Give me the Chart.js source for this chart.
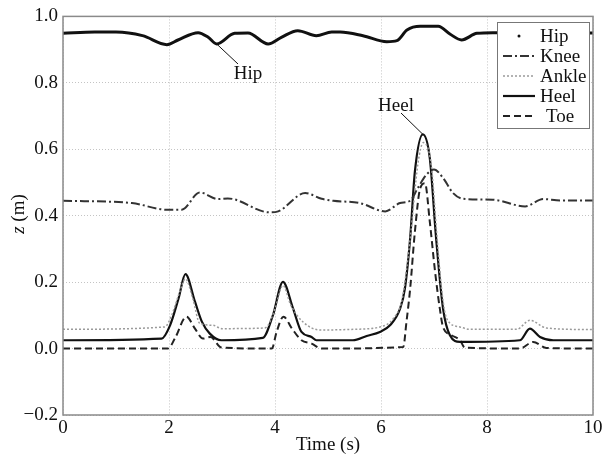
<!DOCTYPE html>
<html>
<head>
<meta charset="utf-8">
<script src="https://cdn.jsdelivr.net/npm/chart.js@4"></script>
<style>
  html, body { margin: 0; padding: 0; background: #fff; }
  #wrap { width: 605px; height: 455px; }
</style>
</head>
<body>
<div id="wrap"><canvas id="zChart" width="605" height="455"></canvas></div>
<script>
// marker heights z (m) vs time (s)
const hipT = [0, 0.6, 1.0, 1.5, 1.96, 2.17, 2.55, 2.74, 2.9, 3.24, 3.49, 3.87, 4.12, 4.43, 4.78, 5.07, 5.23, 5.66, 6.11, 6.3, 6.49, 6.74, 7.08, 7.3, 7.52, 7.81, 8.11, 9.0, 10];
const hipZ = [0.949, 0.953, 0.953, 0.942, 0.915, 0.929, 0.951, 0.937, 0.917, 0.949, 0.950, 0.917, 0.937, 0.957, 0.942, 0.953, 0.953, 0.942, 0.924, 0.927, 0.959, 0.970, 0.970, 0.947, 0.929, 0.949, 0.951, 0.950, 0.950];

const kneeT = [0, 1.3, 1.96, 2.24, 2.58, 2.93, 3.11, 3.9, 4.06, 4.57, 4.88, 5.1, 5.6, 6.08, 6.36, 6.55, 6.7, 6.86, 7.0, 7.17, 7.36, 7.55, 8.11, 8.72, 9.06, 9.38, 10];
const kneeZ = [0.445, 0.438, 0.418, 0.418, 0.470, 0.450, 0.452, 0.410, 0.413, 0.468, 0.451, 0.445, 0.438, 0.413, 0.438, 0.445, 0.485, 0.524, 0.539, 0.514, 0.468, 0.451, 0.448, 0.428, 0.450, 0.446, 0.446];

const ankleT = [0, 1.92, 2.05, 2.2, 2.31, 2.45, 2.58, 2.83, 3.0, 3.8, 3.87, 4.0, 4.15, 4.3, 4.53, 4.85, 5.5, 5.98, 6.23, 6.4, 6.55, 6.7, 6.8, 6.95, 7.05, 7.15, 7.24, 7.49, 7.68, 8.56, 8.81, 9.12, 10];
const ankleZ = [0.058, 0.065, 0.10, 0.17, 0.21, 0.15, 0.076, 0.07, 0.06, 0.062, 0.07, 0.12, 0.19, 0.13, 0.08, 0.056, 0.058, 0.065, 0.09, 0.15, 0.33, 0.56, 0.62, 0.55, 0.35, 0.17, 0.09, 0.065, 0.058, 0.058, 0.085, 0.062, 0.057];

const heelT = [0, 1.86, 2.02, 2.18, 2.31, 2.49, 2.62, 2.77, 2.99, 3.77, 3.96, 4.15, 4.34, 4.5, 4.69, 4.78, 5.47, 5.73, 5.98, 6.17, 6.36, 6.45, 6.55, 6.64, 6.79, 6.92, 7.04, 7.17, 7.3, 7.49, 8.62, 8.81, 9.0, 9.25, 10];
const heelZ = [0.025, 0.03, 0.07, 0.151, 0.224, 0.141, 0.081, 0.045, 0.025, 0.032, 0.10, 0.201, 0.121, 0.05, 0.035, 0.025, 0.025, 0.038, 0.05, 0.07, 0.12, 0.18, 0.332, 0.534, 0.645, 0.574, 0.332, 0.121, 0.04, 0.02, 0.025, 0.06, 0.035, 0.025, 0.025];

const toeT = [0, 1.98, 2.11, 2.33, 2.49, 2.64, 2.78, 2.99, 3.94, 4.03, 4.16, 4.32, 4.5, 4.69, 4.88, 6.42, 6.48, 6.55, 6.64, 6.74, 6.83, 6.92, 7.02, 7.11, 7.17, 7.33, 7.49, 7.58, 8.62, 8.87, 9.12, 10];
const toeZ = [0, 0, 0.03, 0.096, 0.06, 0.03, 0.035, 0.003, 0, 0.05, 0.096, 0.06, 0.025, 0.015, 0, 0.005, 0.08, 0.18, 0.353, 0.483, 0.498, 0.383, 0.232, 0.12, 0.065, 0.04, 0.025, 0.003, 0, 0.02, 0.002, 0];

const xTicks = [0, 2, 4, 6, 8, 10];
const yTicks = [-0.2, 0, 0.2, 0.4, 0.6, 0.8, 1.0];

const serif = "'Liberation Serif', 'Times New Roman', serif";

function pts(ts, zs) {
  return ts.map((t, i) => ({ x: t, y: zs[i] }));
}

// frame, axis titles, annotations and the boxed legend
const extras = {
  id: "extras",
  afterDatasetsDraw(chart) {
    const ctx = chart.ctx;
    const a = chart.chartArea;
    const xs = chart.scales.x, ys = chart.scales.y;
    ctx.save();

    ctx.strokeStyle = "#8a8a8a";
    ctx.lineWidth = 1.5;
    ctx.strokeRect(a.left, a.top, a.right - a.left, a.bottom - a.top);

    ctx.fillStyle = "#111";
    ctx.font = "19px " + serif;
    ctx.textAlign = "center";
    ctx.textBaseline = "middle";
    ctx.fillText("Time (s)", 328, 445);

    // y title with italic z
    ctx.save();
    ctx.translate(19, 214);
    ctx.rotate(-Math.PI / 2);
    ctx.textAlign = "left";
    ctx.font = "italic 19px " + serif;
    const zw = ctx.measureText("z").width;
    ctx.font = "19px " + serif;
    const rw = ctx.measureText(" (m)").width;
    const start = -(zw + rw) / 2;
    ctx.font = "italic 19px " + serif;
    ctx.fillText("z", start, 0);
    ctx.font = "19px " + serif;
    ctx.fillText(" (m)", start + zw, 0);
    ctx.restore();

    // annotations
    ctx.strokeStyle = "#111";
    ctx.lineWidth = 1;
    ctx.beginPath();
    ctx.moveTo(xs.getPixelForValue(2.9), ys.getPixelForValue(0.917));
    ctx.lineTo(238, 64);
    ctx.moveTo(401, 113);
    ctx.lineTo(xs.getPixelForValue(6.79), ys.getPixelForValue(0.645));
    ctx.stroke();
    ctx.font = "19px " + serif;
    ctx.fillText("Hip", 248, 74);
    ctx.fillText("Heel", 396, 106);

    // legend
    const lx = 497, ly = 22, lw = 92, lh = 106;
    ctx.fillStyle = "#fff";
    ctx.fillRect(lx, ly, lw, lh);
    ctx.strokeStyle = "#777";
    ctx.lineWidth = 1;
    ctx.strokeRect(lx + 0.5, ly + 0.5, lw, lh);
    chart.data.datasets.forEach((ds, i) => {
      const cy = 36 + i * 20;
      if (ds.label === "Hip") {
        ctx.fillStyle = "#111";
        ctx.beginPath();
        ctx.arc(519, cy, 1.5, 0, Math.PI * 2);
        ctx.fill();
      } else {
        ctx.strokeStyle = ds.borderColor;
        ctx.lineWidth = ds.borderWidth;
        ctx.setLineDash(ds.borderDash || []);
        ctx.beginPath();
        ctx.moveTo(503, cy);
        ctx.lineTo(535, cy);
        ctx.stroke();
        ctx.setLineDash([]);
      }
      ctx.fillStyle = "#111";
      ctx.textAlign = "left";
      ctx.fillText(ds.label, ds.label === "Toe" ? 546 : 540, cy + 1);
    });
    ctx.restore();
  }
};

const ctx = document.getElementById("zChart").getContext("2d");
new Chart(ctx, {
  type: "line",
  data: {
    datasets: [
      { label: "Hip", data: pts(hipT, hipZ), borderColor: "#111", borderWidth: 3 },
      { label: "Knee", data: pts(kneeT, kneeZ), borderColor: "#333", borderWidth: 2, borderDash: [9, 3, 2, 3] },
      { label: "Ankle", data: pts(ankleT, ankleZ), borderColor: "#9a9a9a", borderWidth: 1.5, borderDash: [2, 2] },
      { label: "Heel", data: pts(heelT, heelZ), borderColor: "#111", borderWidth: 2.2 },
      { label: "Toe", data: pts(toeT, toeZ), borderColor: "#222", borderWidth: 2, borderDash: [7, 4] },
    ],
  },
  options: {
    responsive: false,
    animation: false,
    layout: { padding: { top: 15, right: 12, left: 0, bottom: 0 } },
    elements: {
      point: { radius: 0 },
      line: { cubicInterpolationMode: "monotone", fill: false },
    },
    plugins: { legend: { display: false }, tooltip: { enabled: false } },
    scales: {
      x: {
        type: "linear",
        min: 0,
        max: 10,
        afterFit: (s) => { s.height = 40; },
        afterBuildTicks: (s) => { s.ticks = xTicks.map((v) => ({ value: v })); },
        ticks: { font: { family: serif, size: 19 }, color: "#111", padding: 2, maxRotation: 0 },
        grid: { color: "#c4c4c4", drawTicks: false },
        border: { display: false, dash: [1, 2] },
      },
      y: {
        min: -0.2,
        max: 1.0,
        afterFit: (s) => { s.width = 63; },
        afterBuildTicks: (s) => { s.ticks = yTicks.map((v) => ({ value: v })); },
        ticks: {
          font: { family: serif, size: 19 },
          color: "#111",
          padding: 5,
          callback: (v) => v.toFixed(1).replace("-", "\u2212"),
        },
        grid: { color: "#c4c4c4", drawTicks: false },
        border: { display: false, dash: [1, 2] },
      },
    },
  },
  plugins: [extras],
});
</script>
</body>
</html>
